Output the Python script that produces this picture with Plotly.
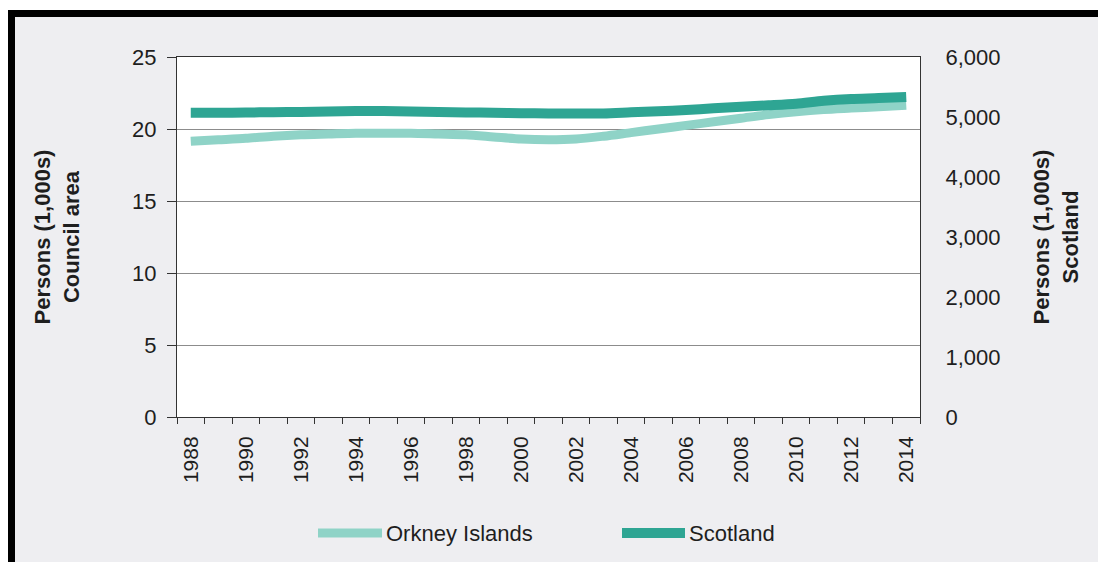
import plotly.graph_objects as go

# Mid-year population estimates, 1988-2014
years = list(range(1988, 2015))
orkney_thousands = [19.15, 19.25, 19.35, 19.5, 19.6, 19.65, 19.7, 19.7, 19.7, 19.65,
                    19.6, 19.45, 19.3, 19.25, 19.3, 19.5, 19.75, 20.0, 20.25, 20.5,
                    20.75, 21.0, 21.2, 21.35, 21.45, 21.55, 21.65]
scotland_thousands = [5070, 5070, 5075, 5080, 5085, 5090, 5100, 5100, 5092, 5083,
                      5077, 5072, 5063, 5060, 5058, 5060, 5078, 5095, 5117, 5144,
                      5169, 5194, 5222, 5270, 5300, 5315, 5335]
year_labels = [str(y) for y in range(1988, 2015, 2)]
series_names = ["Orkney Islands", "Scotland"]

FONT = "Liberation Sans, Arial, sans-serif"
ORKNEY_COL = "#8fd3c7"
SCOTLAND_COL = "#2ea593"
TEXT_COL = "#1e1e1e"

fig = go.Figure()
fig.add_trace(go.Scatter(
    x=years, y=orkney_thousands, name=series_names[0], mode="lines",
    line=dict(color=ORKNEY_COL, width=9, shape="spline", smoothing=0.8),
    yaxis="y", showlegend=False,
))
fig.add_trace(go.Scatter(
    x=years, y=scotland_thousands, name=series_names[1], mode="lines",
    line=dict(color=SCOTLAND_COL, width=10, shape="spline", smoothing=0.8),
    yaxis="y2", showlegend=False,
))

W, H = 1098, 562
L, R, T, B = 177, 178, 57, 145
pw, ph = W - L - R, H - T - B


def px_x(p):
    return (p - L) / pw


def px_y(p):
    return (H - B - p) / ph


shapes = [
    # white strips outside the frame
    dict(type="rect", xref="paper", yref="paper", x0=px_x(0), x1=px_x(W),
         y0=px_y(10), y1=px_y(0), fillcolor="white", line_width=0, layer="below"),
    dict(type="rect", xref="paper", yref="paper", x0=px_x(0), x1=px_x(8),
         y0=px_y(H), y1=px_y(0), fillcolor="white", line_width=0, layer="below"),
    # black frame bars (top and left)
    dict(type="rect", xref="paper", yref="paper", x0=px_x(8), x1=px_x(W),
         y0=px_y(17), y1=px_y(10), fillcolor="black", line_width=0, layer="below"),
    dict(type="rect", xref="paper", yref="paper", x0=px_x(8), x1=px_x(15),
         y0=px_y(H), y1=px_y(10), fillcolor="black", line_width=0, layer="below"),
]

# Legend below the plot: long line keys followed by the series names
annotations = []
legend_y = px_y(533)
for name, col, lw, x0, x1 in [(series_names[0], ORKNEY_COL, 9, 318, 382),
                              (series_names[1], SCOTLAND_COL, 10, 622, 685)]:
    shapes.append(dict(type="line", xref="paper", yref="paper",
                       x0=px_x(x0), x1=px_x(x1), y0=legend_y, y1=legend_y,
                       line=dict(color=col, width=lw)))
    annotations.append(dict(text=name, xref="paper", yref="paper",
                            x=px_x(x1 + 2), y=legend_y, xanchor="left", yanchor="middle",
                            showarrow=False, font=dict(size=22, color=TEXT_COL)))

fig.update_layout(
    width=W, height=H,
    margin=dict(l=L, r=R, t=T, b=B, autoexpand=False),
    paper_bgcolor="#eeeef1",
    plot_bgcolor="white",
    font=dict(family=FONT, size=22, color=TEXT_COL),
    shapes=shapes,
    annotations=annotations,
    xaxis=dict(
        range=[1987.5, 2014.5],
        tickmode="array", tickvals=list(range(1988, 2015, 2)), ticktext=year_labels,
        tickangle=-90, ticks="", ticklabelstandoff=10,
        tickfont=dict(size=21, color=TEXT_COL),
        minor=dict(tick0=1987.5, dtick=1, ticks="outside", ticklen=6,
                   tickcolor="#333333", tickwidth=1, showgrid=False),
        showline=True, linecolor="#333333", linewidth=1, mirror=True,
        showgrid=False, zeroline=False, fixedrange=True,
    ),
    yaxis=dict(
        range=[0, 25], tickmode="linear", tick0=0, dtick=5,
        ticks="outside", ticklen=9, tickcolor="#333333", ticklabelstandoff=6,
        tickfont=dict(size=22, color=TEXT_COL),
        showline=True, linecolor="#333333", linewidth=1,
        showgrid=True, gridcolor="#8c8c8c", gridwidth=1, zeroline=False,
        title=dict(text="<b>Persons (1,000s)<br>Council area</b>",
                   font=dict(size=22, color=TEXT_COL), standoff=46),
    ),
    yaxis2=dict(
        range=[0, 6000], tickmode="linear", tick0=0, dtick=1000, tickformat=",",
        overlaying="y", side="right", ticks="", ticklabelstandoff=20,
        tickfont=dict(size=22, color=TEXT_COL),
        showline=True, linecolor="#333333", linewidth=1,
        showgrid=False, zeroline=False,
        title=dict(text="<b>Persons (1,000s)<br>Scotland</b>",
                   font=dict(size=22, color=TEXT_COL), standoff=34),
    ),
)

fig.write_html("out.html")
